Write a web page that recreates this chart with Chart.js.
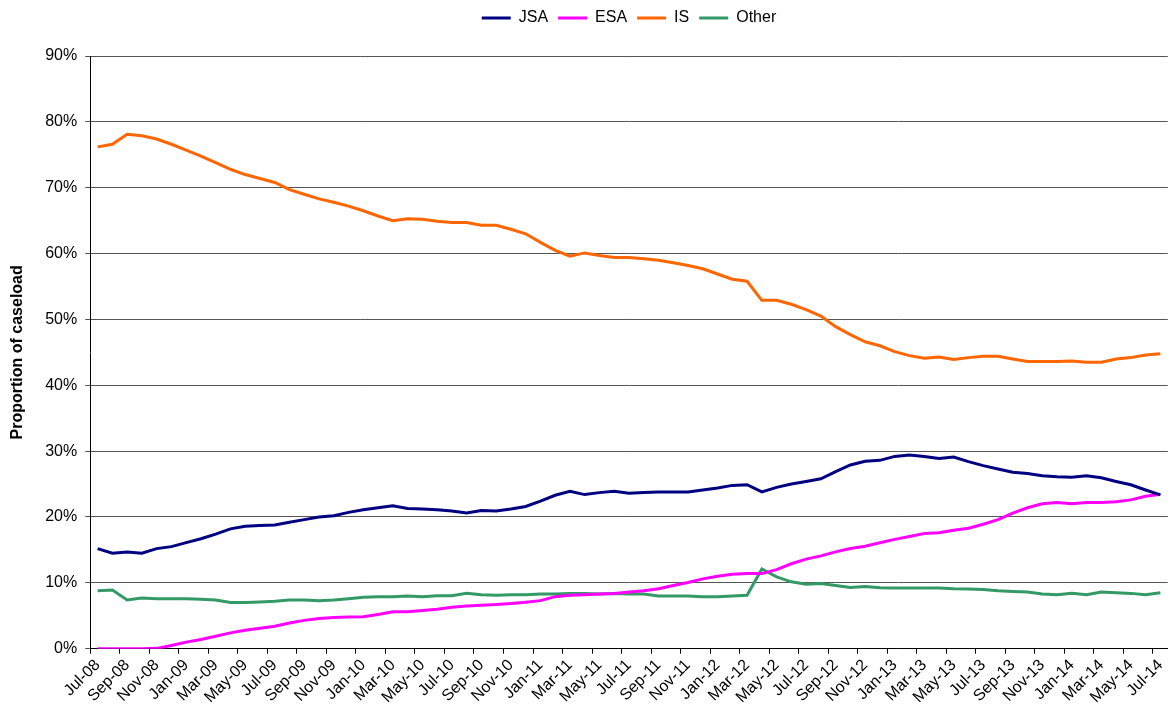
<!DOCTYPE html>
<html>
<head>
<meta charset="utf-8">
<title>Caseload proportions</title>
<script src="https://cdn.jsdelivr.net/npm/chart.js@4"></script>
<style>
  html, body { margin: 0; padding: 0; background: #fff; overflow: hidden; }
  #wrap { width: 1176px; height: 711px; }
</style>
</head>
<body>
<div id="wrap"><canvas id="mycanvas"></canvas></div>
<script>
// months Jul-08 .. Jul-14
var months = ['Jul-08','Aug-08','Sep-08','Oct-08','Nov-08','Dec-08',
  'Jan-09','Feb-09','Mar-09','Apr-09','May-09','Jun-09','Jul-09','Aug-09','Sep-09','Oct-09','Nov-09','Dec-09',
  'Jan-10','Feb-10','Mar-10','Apr-10','May-10','Jun-10','Jul-10','Aug-10','Sep-10','Oct-10','Nov-10','Dec-10',
  'Jan-11','Feb-11','Mar-11','Apr-11','May-11','Jun-11','Jul-11','Aug-11','Sep-11','Oct-11','Nov-11','Dec-11',
  'Jan-12','Feb-12','Mar-12','Apr-12','May-12','Jun-12','Jul-12','Aug-12','Sep-12','Oct-12','Nov-12','Dec-12',
  'Jan-13','Feb-13','Mar-13','Apr-13','May-13','Jun-13','Jul-13','Aug-13','Sep-13','Oct-13','Nov-13','Dec-13',
  'Jan-14','Feb-14','Mar-14','Apr-14','May-14','Jun-14','Jul-14'];

var jsa = [15.2,14.5,14.7,14.5,15.2,15.5,16.1,16.7,17.4,18.2,18.6,18.7,18.8,19.2,19.6,20.0,20.2,20.7,
  21.1,21.4,21.7,21.3,21.2,21.1,20.9,20.6,21.0,20.9,21.2,21.6,22.4,23.3,23.9,23.4,23.7,23.9,
  23.6,23.7,23.8,23.8,23.8,24.1,24.4,24.8,24.9,23.8,24.5,25.0,25.4,25.8,26.9,27.9,28.45,28.6,
  29.2,29.4,29.2,28.9,29.1,28.4,27.8,27.3,26.8,26.6,26.25,26.1,26.05,26.25,25.95,25.4,24.9,24.1,23.35];

var esa = [0,0,0,0,0.05,0.5,1.0,1.4,1.9,2.4,2.8,3.1,3.4,3.9,4.3,4.6,4.75,4.8,
  4.85,5.2,5.6,5.6,5.8,6.0,6.3,6.5,6.6,6.7,6.85,7.05,7.3,7.9,8.1,8.2,8.3,8.4,
  8.6,8.8,9.1,9.6,10.05,10.6,11.0,11.3,11.4,11.4,12.0,12.9,13.6,14.1,14.7,15.2,15.55,16.1,
  16.6,17.05,17.5,17.6,18.0,18.3,18.9,19.6,20.6,21.4,22.0,22.2,22.0,22.2,22.2,22.3,22.6,23.15,23.45];

var is = [76.2,76.6,78.1,77.9,77.4,76.6,75.7,74.8,73.8,72.8,72.0,71.4,70.8,69.7,69.0,68.3,67.8,67.2,
  66.5,65.7,65.0,65.3,65.2,64.9,64.7,64.7,64.3,64.3,63.7,63.0,61.7,60.5,59.6,60.1,59.7,59.4,
  59.4,59.2,59.0,58.6,58.2,57.7,56.9,56.1,55.8,52.9,52.9,52.3,51.5,50.5,48.9,47.7,46.6,46.0,
  45.1,44.5,44.1,44.3,43.9,44.2,44.4,44.4,44.0,43.6,43.6,43.6,43.7,43.5,43.5,44.0,44.2,44.6,44.8];

var other = [8.8,8.9,7.4,7.7,7.6,7.6,7.6,7.5,7.4,7.0,7.0,7.1,7.2,7.4,7.4,7.3,7.4,7.6,
  7.8,7.9,7.9,8.0,7.9,8.05,8.05,8.4,8.2,8.1,8.2,8.2,8.3,8.3,8.4,8.4,8.3,8.4,
  8.3,8.3,8.0,8.0,8.0,7.9,7.9,8.0,8.1,12.1,10.9,10.15,9.8,9.9,9.6,9.3,9.45,9.25,
  9.2,9.2,9.2,9.2,9.1,9.05,9.0,8.8,8.7,8.6,8.3,8.2,8.4,8.2,8.6,8.5,8.4,8.2,8.5];

var yTicks = [0,10,20,30,40,50,60,70,80,90];

Chart.defaults.font.family = "'Liberation Sans', Arial, sans-serif";
Chart.defaults.font.size = 16;
Chart.defaults.color = '#000';

function series(label, values, colour) {
  return {
    label: label,
    data: values,
    borderColor: colour,
    backgroundColor: colour,
    borderWidth: 3,
    pointRadius: 0,
    tension: 0,
    fill: false
  };
}

// push the plot down a bit below the legend
var legendMargin = {
  id: 'legendMargin',
  beforeInit: function(chart) {
    var fit = chart.legend.fit;
    chart.legend.fit = function() {
      fit.bind(chart.legend)();
      this.height += 20;
    };
  }
};

var ctx = document.getElementById('mycanvas');

var lineGraph = new Chart(ctx, {
  type: 'line',
  data: {
    labels: months,
    datasets: [
      series('JSA', jsa, '#000080'),
      series('ESA', esa, '#FF00FF'),
      series('IS', is, '#FF6600'),
      series('Other', other, '#339966')
    ]
  },
  options: {
    responsive: true,
    maintainAspectRatio: false,
    animation: false,
    layout: { padding: { left: 0, right: 2, top: 0, bottom: 2 } },
    plugins: {
      tooltip: { enabled: false },
      legend: {
        position: 'top',
        fullSize: false,
        labels: {
          boxWidth: 29,
          boxHeight: 3,
          padding: 10,
          generateLabels: function(chart) {
            var items = Chart.defaults.plugins.legend.labels.generateLabels(chart);
            items.forEach(function(it) {
              it.fillStyle = it.strokeStyle;
              it.lineWidth = 0;
            });
            return items;
          }
        }
      }
    },
    scales: {
      x: {
        type: 'category',
        offset: true,
        border: { color: '#000', width: 1 },
        grid: {
          offset: true,
          drawOnChartArea: false,
          tickLength: 5,
          color: function(c) { return c.index % 2 === 0 ? '#000' : 'rgba(0,0,0,0)'; }
        },
        ticks: {
          autoSkip: false,
          maxRotation: 45,
          minRotation: 45,
          padding: 2,
          callback: function(v, i) { return i % 2 === 0 ? months[i] : ''; }
        }
      },
      y: {
        min: 0,
        max: 90,
        border: { color: '#000', width: 1 },
        grid: { color: '#555', tickLength: 5 },
        afterBuildTicks: function(axis) {
          axis.ticks = yTicks.map(function(v) { return { value: v }; });
        },
        ticks: {
          padding: 8,
          callback: function(v) { return v + '%'; }
        },
        title: {
          display: true,
          text: 'Proportion of caseload',
          font: { weight: 'bold', size: 16 },
          padding: { top: 8, bottom: 10 }
        }
      }
    }
  },
  plugins: [legendMargin]
});
</script>
</body>
</html>
